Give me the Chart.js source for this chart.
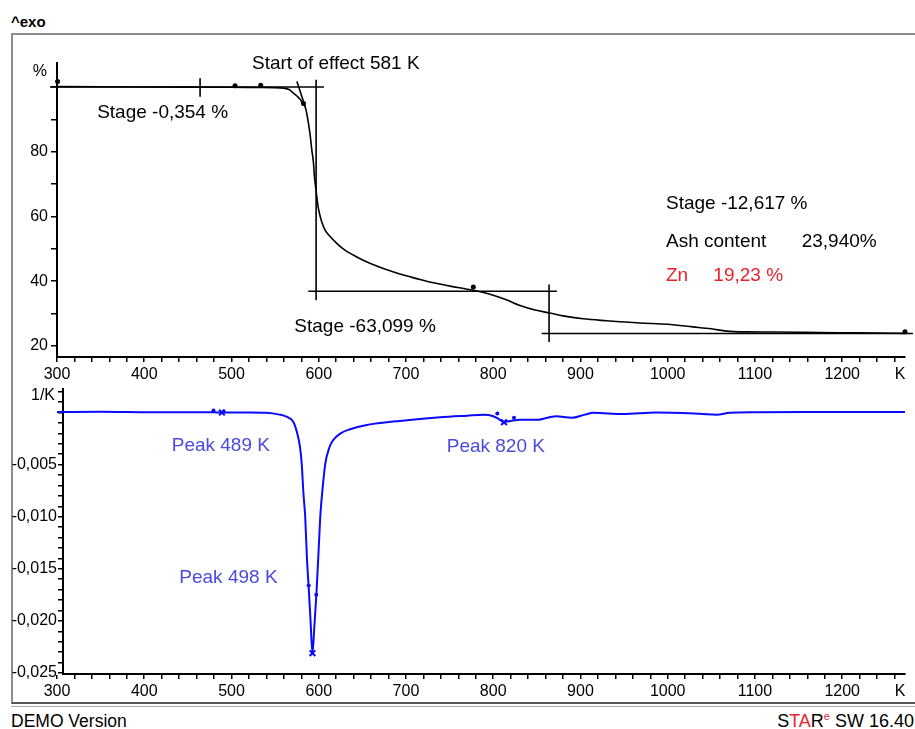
<!DOCTYPE html>
<html>
<head>
<meta charset="utf-8">
<script src="https://cdn.jsdelivr.net/npm/chart.js@4/dist/chart.umd.min.js"></script>
<style>
  body { margin: 0; width: 915px; height: 729px; background: #fff; position: relative; overflow: hidden;
         font-family: "Liberation Sans", Arial, sans-serif; color: #000; }
  .abs { position: absolute; }
  #frame { left: 11px; top: 33px; width: 920px; height: 667px;
           border-left: 2px solid #8c8c8c; border-top: 2px solid #8c8c8c; border-bottom: 2px solid #555; }
  #frame2 { left: 11px; top: 706px; width: 904px; height: 1px; background: #a8a8a8; }
  #exo { left: 11px; top: 14px; font-size: 15px; line-height: 15px; font-weight: bold; }
  #demo { left: 11px; top: 713px; font-size: 17.5px; line-height: 17.5px; }
  #star { right: 1px; top: 712px; font-size: 18px; line-height: 18px; white-space: nowrap; }
  #star .r { color: #e8222b; }
  #star sup { font-size: 11px; vertical-align: 7px; line-height: 0; }
  canvas { position: absolute; left: 0; }
</style>
</head>
<body>
<div id="frame" class="abs"></div>
<div id="frame2" class="abs"></div>
<div id="exo" class="abs">^exo</div>
<div id="demo" class="abs">DEMO Version</div>
<div id="star" class="abs">S<span class="r">TA</span>R<sup class="r">e</sup> SW 16.40</div>
<canvas id="tga" width="915" height="385" style="top:0"></canvas>
<canvas id="dtg" width="915" height="322" style="top:378px"></canvas>
<script>
const FONT = '"Liberation Sans", Arial, sans-serif';

// TGA curve: temperature (K) and mass (%)
const tgaTemp = [300, 350, 400, 450, 500, 530, 550, 560, 566, 571, 575, 578.7, 582, 584.4, 586.5, 588.2, 590, 592.1, 594,
  595.1, 596.5, 597.8, 599, 600.8, 603.5, 607.3, 613, 620.7, 630, 643.6, 658, 674.1, 692, 712.4, 730, 750.5, 777, 800,
  815, 830.7, 848, 865, 880, 903, 930, 968, 1000, 1029, 1050, 1067.5, 1090, 1121, 1160, 1197, 1240, 1272];
const tgaMass = [100.1, 100.05, 100.0, 99.95, 99.9, 99.85, 99.8, 99.6, 99.2, 98.1, 97.2, 96.2, 94.8, 93.9, 91.5, 88.8, 85.5, 80.5, 76.5,
  72.3, 69.0, 66.1, 63.5, 61.0, 58.3, 55.8, 53.8, 51.7, 49.6, 47.5, 45.6, 43.9, 42.3, 40.8, 39.6, 38.5, 37.2, 35.7,
  34.3, 32.5, 31.1, 30.2, 29.3, 28.4, 27.8, 27.1, 26.7, 25.9, 25.3, 24.6, 24.35, 24.3, 24.2, 24.1, 24.0, 23.9];

// DTG curve: temperature (K) and rate (1/K)
const dtgTemp = [300, 350, 400, 450, 479, 489, 500, 520, 540, 555, 563, 571, 576, 578.5, 580.5, 582.5, 584.5, 586.5, 588.5,
  590.5, 592.8, 595, 597.5, 600, 602, 605, 607.5, 612, 616, 625, 636, 655, 693, 739, 770, 789, 800, 806, 812, 820,
  831, 850, 872, 890, 905, 915, 949, 987, 1037, 1056, 1071, 1102, 1159, 1210, 1272];
const dtgRate = [0.00005, 0.00008, 0.00004, 0.00002, 0.00002, 0.0, 0.0, 0.0, -0.00003, -0.0002, -0.0004, -0.0009, -0.0022, -0.0033, -0.0049, -0.0078, -0.0100, -0.0140, -0.0168,
  -0.0198, -0.0231, -0.0205, -0.0172, -0.0130, -0.0097, -0.0068, -0.0049, -0.0034, -0.0027, -0.0020, -0.0016, -0.0012, -0.0008, -0.00045, -0.0003, -0.00022, -0.00035, -0.0006, -0.0009, -0.0008,
  -0.0007, -0.0007, -0.00035, -0.0005, -0.0002, -0.00003, -0.00015, 0.0, -0.00012, -0.0002, -0.00003, 0.00003, 0.00006, 0.00006, 0.00005];

// evaluation lines of the TGA steps (K, %)
const stepLines = [
  [[292, 100], [606, 100]],
  [[464, 102.7], [464, 97.0]],
  [[575, 101.7], [584.5, 93.9]],
  [[597, 102.2], [597, 34.1]],
  [[588, 36.9], [873, 36.9]],
  [[864, 39.0], [864, 21.2]],
  [[855.5, 23.85], [1281, 23.85]],
];
const tgaMarks = [[300.7, 101.7], [504, 100.4], [533.5, 100.5], [582.5, 94.9], [777.2, 38.2], [1272, 24.4]];
const dtgPeaks = [[489, 0.0], [592.8, -0.0231], [812.4, -0.00093]];
const dtgMarks = [[479.4, 0.0002], [491, 0.0001], [588.5, -0.0166], [597.2, -0.0175], [804.7, -0.0001], [823.8, -0.0005]];

// axis ticks
const xTicks = [];
for (let t = 300; t <= 1260; t += 20) xTicks.push(t);
const xLabels = [300, 400, 500, 600, 700, 800, 900, 1000, 1100, 1200];
const massTicks = [20, 30, 40, 50, 60, 70, 80, 90, 100];
const massLabels = [20, 40, 60, 80];
const rateTicks = [];
for (let k = -25; k <= 2; k++) rateTicks.push(k / 1000);
const rateLabels = [-0.005, -0.010, -0.015, -0.020, -0.025];

// text notes, anchored in data units
const tgaNotes = [
  { text: 'Start of effect 581 K', x: 523.5, y: 107.2, color: '#000' },
  { text: 'Stage -0,354 %', x: 346, y: 91.9, color: '#000' },
  { text: 'Stage -63,099 %', x: 572, y: 25.9, color: '#000' },
  { text: 'Stage -12,617 %', x: 998, y: 63.8, color: '#000' },
  { text: 'Ash content', x: 998, y: 52.2, color: '#000' },
  { text: '23,940%', x: 1153.6, y: 52.2, color: '#000' },
  { text: 'Zn', x: 998, y: 41.6, color: '#e8222b' },
  { text: '19,23 %', x: 1052.3, y: 41.6, color: '#e8222b' },
];
const dtgNotes = [
  { text: 'Peak 489 K', x: 431.5, y: -0.00322, color: '#4a4ade' },
  { text: 'Peak 498 K', x: 440.2, y: -0.01586, color: '#4a4ade' },
  { text: 'Peak 820 K', x: 746.7, y: -0.00332, color: '#4a4ade' },
];

const toXY = (xs, ys) => xs.map((x, i) => ({ x: x, y: ys[i] }));
const pairXY = (list) => list.map(p => ({ x: p[0], y: p[1] }));

// draws the notes plus the unit labels
const notesPlugin = {
  id: 'notes',
  afterDraw(chart) {
    const { ctx, chartArea } = chart;
    const xs = chart.scales.x, ys = chart.scales.y;
    const opts = chart.options.plugins.notes;
    ctx.save();
    ctx.textBaseline = 'middle';
    ctx.font = '19px ' + FONT;
    ctx.textAlign = 'left';
    opts.items.forEach(n => {
      ctx.fillStyle = n.color;
      ctx.fillText(n.text, xs.getPixelForValue(n.x), ys.getPixelForValue(n.y));
    });
    ctx.font = '16px ' + FONT;
    ctx.fillStyle = '#000';
    ctx.textAlign = 'right';
    ctx.fillText(opts.unit, opts.unitX, chartArea.top + opts.unitDy);
    ctx.textAlign = 'center';
    ctx.fillText('K', xs.right - 5, xs.bottom - opts.kDy);
    ctx.restore();
  }
};

const axisFont = { size: 16, family: FONT };

const xScale = (min, height) => ({
  type: 'linear', min: min, max: 1272,
  afterBuildTicks: s => { s.ticks = xTicks.map(v => ({ value: v })); },
  afterFit: s => { s.height = height; },
  ticks: { callback: v => xLabels.includes(v) ? String(v) : '', autoSkip: false, maxRotation: 0,
           color: '#000', font: axisFont, padding: 3 },
  grid: { drawOnChartArea: false, tickLength: 5, color: '#000', lineWidth: 1.5 },
  border: { color: '#000', width: 2 },
});

// top chart: mass loss
new Chart(document.getElementById('tga'), {
  type: 'line',
  data: {
    datasets: [
      { data: toXY(tgaTemp, tgaMass), borderColor: '#000', borderWidth: 1.6, pointRadius: 0,
        cubicInterpolationMode: 'monotone' },
      ...stepLines.map(l => ({ data: pairXY(l), borderColor: '#000', borderWidth: 1.6, pointRadius: 0, clip: false })),
      { data: pairXY(tgaMarks), showLine: false, pointRadius: 2.5, pointBackgroundColor: '#000',
        pointBorderWidth: 0, clip: false },
    ]
  },
  options: {
    animation: false, responsive: false,
    layout: { padding: { top: 63, right: 10, left: 0, bottom: 0 } },
    plugins: { legend: { display: false }, tooltip: { enabled: false },
      notes: { items: tgaNotes, unit: '%', unitX: 47, unitDy: 9, kDy: 10 } },
    scales: {
      x: xScale(300, 28),
      y: {
        type: 'linear', min: 16.6, max: 107.4,
        afterBuildTicks: s => { s.ticks = massTicks.map(v => ({ value: v })); },
        afterFit: s => { s.width = 57; },
        ticks: { callback: v => massLabels.includes(v) ? String(v) : '', autoSkip: false,
                 color: '#000', font: axisFont, padding: 3 },
        grid: { drawOnChartArea: false, tickLength: 6, color: '#000', lineWidth: 1.5 },
        border: { color: '#000', width: 2 },
      }
    }
  },
  plugins: [notesPlugin]
});

// bottom chart: first derivative
new Chart(document.getElementById('dtg'), {
  type: 'line',
  data: {
    datasets: [
      { data: toXY(dtgTemp, dtgRate), borderColor: '#0a0aff', borderWidth: 2, pointRadius: 0,
        cubicInterpolationMode: 'monotone', clip: false },
      { data: pairXY(dtgPeaks), showLine: false, pointStyle: 'crossRot', pointRadius: 4,
        pointBorderColor: '#0a0aff', pointBorderWidth: 2 },
      { data: pairXY(dtgMarks), showLine: false, pointRadius: 2, pointBackgroundColor: '#0a0aff',
        pointBorderWidth: 0 },
    ]
  },
  options: {
    animation: false, responsive: false,
    layout: { padding: { top: 0, right: 10, left: 0, bottom: 0 } },
    plugins: { legend: { display: false }, tooltip: { enabled: false },
      notes: { items: dtgNotes, unit: '1/K', unitX: 55, unitDy: 7, kDy: 8 } },
    scales: {
      x: xScale(306.88, 26),
      y: {
        type: 'linear', min: -0.0251, max: 0.0023,
        afterBuildTicks: s => { s.ticks = rateTicks.map(v => ({ value: v })); },
        afterFit: s => { s.width = 63; },
        ticks: {
          callback: v => rateLabels.some(r => Math.abs(r - v) < 1e-7) ? v.toFixed(3).replace('.', ',') : '',
          autoSkip: false, color: '#000', font: axisFont, padding: 1 },
        grid: { drawOnChartArea: false, tickLength: 5, color: '#000', lineWidth: 1.5 },
        border: { color: '#000', width: 2 },
      }
    }
  },
  plugins: [notesPlugin]
});
</script>
</body>
</html>
